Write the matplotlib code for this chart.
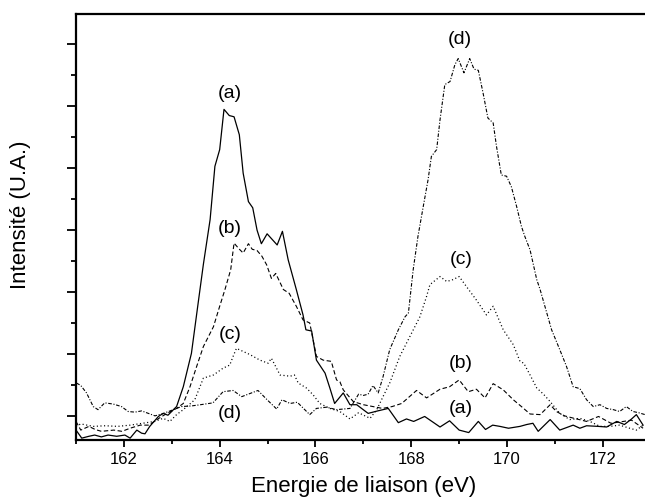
import matplotlib
matplotlib.use("Agg")
import matplotlib.pyplot as plt
from matplotlib.ticker import MultipleLocator, NullFormatter

plt.rcParams['font.family'] = ['Liberation Sans', 'DejaVu Sans']
plt.rcParams['lines.scale_dashes'] = False

# (energy eV, intensity a.u.)
spectrum_a = [(161.0,-0.23),(161.12,-0.36),(161.27,-0.33),(161.39,-0.31),(161.53,-0.34),(161.67,-0.31),
              (161.85,-0.33),(162.02,-0.31),(162.13,-0.36),(162.27,-0.23),(162.37,-0.28),(162.44,-0.29),
              (162.54,-0.17),(162.72,-0.01),(162.82,0.04),(162.92,0.01),(163.06,0.12),(163.1,0.15),
              (163.24,0.47),(163.41,1.01),(163.55,1.82),(163.66,2.45),(163.8,3.17),(163.9,4.03),(164.0,4.3),
              (164.09,4.95),(164.2,4.85),(164.3,4.83),(164.41,4.54),(164.49,3.92),(164.6,3.46),(164.69,3.36),
              (164.78,3.0),(164.87,2.78),(164.99,2.94),(165.2,2.76),(165.31,2.98),(165.43,2.52),(165.6,2.04),
              (165.74,1.63),(165.8,1.39),(165.92,1.37),(166.02,0.9),(166.2,0.69),(166.3,0.45),(166.4,0.2),
              (166.58,0.37),(166.72,0.18),(166.86,0.18),(167.1,0.04),(167.3,0.08),(167.52,0.12),(167.73,-0.11),
              (167.9,-0.05),(168.05,-0.09),(168.28,-0.01),(168.45,-0.1),(168.6,-0.18),(168.8,-0.08),(169.0,-0.23),
              (169.2,-0.27),(169.4,-0.09),(169.55,-0.22),(169.7,-0.15),(169.85,-0.17),(170.03,-0.2),(170.27,-0.17),
              (170.41,-0.14),(170.54,-0.12),(170.65,-0.25),(170.9,-0.06),(171.1,-0.23),(171.38,-0.15),(171.52,-0.2),
              (171.66,-0.16),(171.9,-0.17),(172.08,-0.18),(172.29,-0.09),(172.45,-0.14),(172.6,-0.05),(172.7,0.02),
              (172.84,-0.15)]

spectrum_b = [(161.0,-0.09),(161.10,-0.23),(161.27,-0.17),(161.4,-0.22),(161.53,-0.25),(161.79,-0.23),
              (161.96,-0.25),(162.13,-0.20),(162.34,-0.15),(162.52,-0.15),(162.73,-0.04),(162.90,0.04),
              (163.1,0.12),(163.24,0.2),(163.38,0.47),(163.52,0.8),(163.66,1.12),(163.87,1.44),(164.0,1.77),
              (164.11,2.04),(164.23,2.36),(164.3,2.79),(164.4,2.7),(164.49,2.63),(164.6,2.78),(164.68,2.69),
              (164.78,2.67),(164.88,2.58),(164.98,2.44),(165.08,2.22),(165.17,2.3),(165.33,2.04),(165.45,1.98),
              (165.6,1.77),(165.74,1.55),(165.88,1.5),(166.02,0.96),(166.16,0.9),(166.33,0.88),(166.44,0.58),
              (166.51,0.55),(166.58,0.42),(166.79,0.23),(167.0,0.18),(167.2,0.15),(167.4,0.12),(167.6,0.15),
              (167.8,0.2),(168.11,0.41),(168.32,0.29),(168.6,0.43),(168.8,0.47),(169.0,0.58),(169.19,0.39),
              (169.36,0.43),(169.54,0.29),(169.71,0.52),(169.92,0.42),(170.13,0.26),(170.3,0.15),(170.48,0.03),
              (170.69,0.02),(170.9,0.18),(171.03,0.07),(171.2,0.0),(171.4,-0.04),(171.66,-0.09),(171.91,-0.01),
              (172.17,-0.12),(172.43,-0.09),(172.6,-0.07),(172.84,-0.2)]

spectrum_c = [(161.0,-0.17),(161.10,-0.13),(161.36,-0.17),(161.61,-0.16),(161.87,-0.17),(162.13,-0.15),
              (162.39,-0.12),(162.64,-0.09),(162.82,-0.04),(162.96,-0.09),(163.1,0.02),(163.24,0.1),
              (163.48,0.26),(163.66,0.61),(163.87,0.66),(164.07,0.77),(164.21,0.82),(164.28,0.96),(164.35,1.09),
              (164.63,0.99),(164.84,0.9),(165.01,0.85),(165.08,0.93),(165.26,0.66),(165.47,0.64),(165.56,0.66),
              (165.64,0.53),(165.81,0.45),(165.95,0.34),(166.09,0.2),(166.3,0.12),(166.51,0.07),(166.72,-0.05),
              (166.9,0.05),(167.14,-0.04),(167.28,0.1),(167.41,0.31),(167.55,0.53),(167.76,0.96),(167.97,1.28),
              (168.18,1.6),(168.32,1.93),(168.39,2.12),(168.6,2.25),(168.74,2.17),(168.87,2.2),(169.0,2.25),
              (169.15,2.09),(169.36,1.87),(169.57,1.63),(169.71,1.77),(169.92,1.39),(170.13,1.15),(170.27,0.88),
              (170.35,0.85),(170.48,0.66),(170.62,0.45),(170.76,0.35),(170.9,0.23),(171.1,0.04),(171.31,-0.06),
              (171.52,-0.04),(171.73,-0.09),(171.94,-0.17),(172.15,-0.17),(172.35,-0.15),(172.56,-0.2),
              (172.7,-0.23),(172.84,-0.15)]

spectrum_d = [(161.01,0.53),(161.1,0.49),(161.22,0.37),(161.36,0.15),(161.46,0.1),(161.6,0.21),(161.78,0.19),
              (161.95,0.15),(162.09,0.07),(162.23,0.06),(162.37,0.08),(162.51,0.04),(162.65,0.0),(162.79,0.03),
              (163.0,0.09),(163.2,0.15),(163.41,0.16),(163.6,0.18),(163.86,0.21),(164.07,0.39),(164.28,0.41),
              (164.46,0.31),(164.63,0.36),(164.8,0.41),(164.99,0.26),(165.19,0.11),(165.3,0.26),(165.47,0.2),
              (165.62,0.22),(165.88,0.02),(166.02,0.12),(166.23,0.14),(166.44,0.1),(166.72,0.12),(166.9,0.35),
              (167.0,0.33),(167.1,0.35),(167.2,0.49),(167.31,0.37),(167.41,0.63),(167.55,1.07),(167.73,1.39),
              (167.87,1.6),(167.94,1.66),(168.04,2.36),(168.14,2.9),(168.25,3.38),(168.35,3.81),(168.42,4.19),
              (168.53,4.3),(168.6,4.78),(168.7,5.35),(168.81,5.4),(168.91,5.67),(168.98,5.77),(169.1,5.54),
              (169.22,5.77),(169.31,5.6),(169.4,5.58),(169.5,5.21),(169.6,4.81),(169.71,4.73),(169.78,4.35),
              (169.88,3.89),(169.99,3.87),(170.09,3.7),(170.2,3.38),(170.3,3.06),(170.37,2.9),(170.48,2.68),
              (170.62,2.2),(170.69,2.04),(170.93,1.39),(171.1,1.07),(171.24,0.8),(171.38,0.47),(171.52,0.44),
              (171.66,0.26),(171.8,0.15),(171.94,0.18),(172.08,0.12),(172.22,0.1),(172.35,0.07),(172.49,0.15),
              (172.63,0.07),(172.75,0.05),(172.88,0.02)]

# curve annotations: (text, energy, intensity)
annotations = [("(a)", 164.21, 5.2), ("(b)", 164.21, 3.03), ("(c)", 164.21, 1.32), ("(d)", 164.21, 0.03),
               ("(d)", 169.02, 6.08), ("(c)", 169.04, 2.53), ("(b)", 169.04, 0.85), ("(a)", 169.04, 0.12)]

xticks = [162, 164, 166, 168, 170, 172]
x_label = "Energie de liaison (eV)"
y_label = "Intensité (U.A.)"

fig = plt.figure(figsize=(6.45, 5.04), dpi=100)
ax = fig.add_axes([76/645, 64/504, 569/645, 426/504])

styles = [
    (spectrum_a, dict(linestyle='-', linewidth=0.9)),
    (spectrum_b, dict(linestyle=(0, (3.2, 1.8)), linewidth=0.8)),
    (spectrum_c, dict(linestyle=(0, (0.8, 1.8)), linewidth=0.9)),
    (spectrum_d, dict(linestyle=(0, (2.6, 1.2, 0.8, 1.2)), linewidth=0.8)),
]
for data, st in styles:
    xs = [p[0] for p in data]
    ys = [p[1] for p in data]
    ax.plot(xs, ys, color='black', **st)

for txt, xv, yv in annotations:
    ax.text(xv, yv, txt, ha='center', va='center', fontsize=14)

ax.set_xlim(161.0, 172.88)
ax.set_ylim(-0.39, 6.49)

ax.set_xticks(xticks)
ax.xaxis.set_minor_locator(MultipleLocator(1))
ax.yaxis.set_major_locator(MultipleLocator(1))
ax.yaxis.set_minor_locator(MultipleLocator(0.5))
ax.yaxis.set_major_formatter(NullFormatter())

ax.tick_params(axis='x', which='major', direction='out', length=5, width=1.3, labelsize=12, pad=4)
ax.tick_params(axis='x', which='minor', direction='out', length=3, width=1.3)
ax.tick_params(axis='y', which='major', direction='out', length=6.5, width=1.3)
ax.tick_params(axis='y', which='minor', direction='out', length=3.5, width=1.3)

for s in ['left', 'bottom', 'top']:
    ax.spines[s].set_linewidth(1.6)
ax.spines['right'].set_visible(False)

ax.set_xlabel(x_label, fontsize=16)
ax.xaxis.set_label_coords(0.506, -0.108)
ax.xaxis.label.set_va('center')
ax.set_ylabel(y_label, fontsize=16)
ax.yaxis.set_label_coords(-0.097, 0.528)
ax.yaxis.label.set_va('center')

fig.savefig("out.png", dpi=100)
